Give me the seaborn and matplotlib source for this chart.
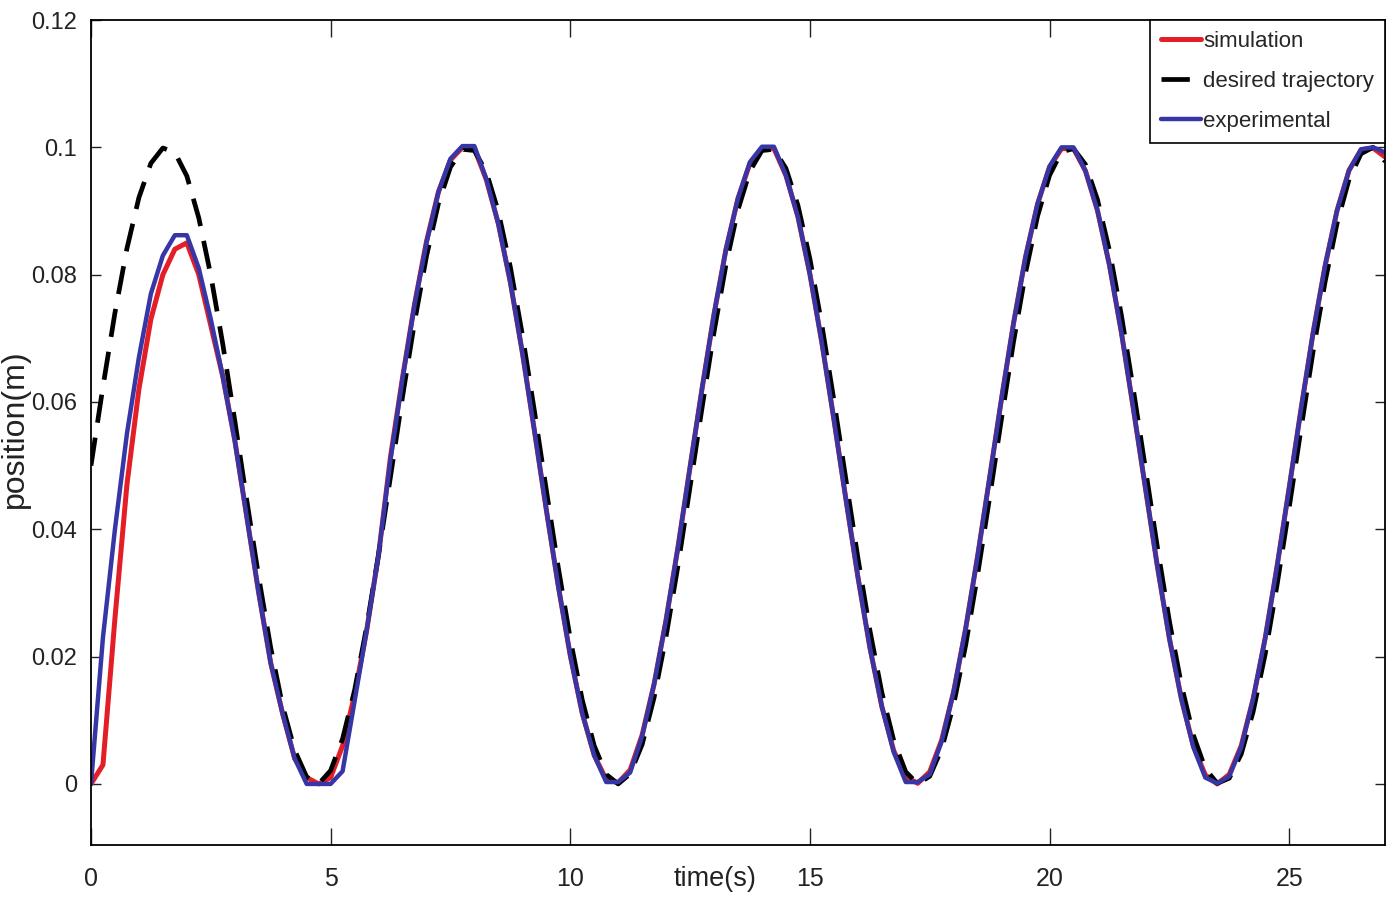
import numpy as np
import pandas as pd
import matplotlib
matplotlib.use("Agg")
import matplotlib.pyplot as plt
import seaborn as sns
from matplotlib.ticker import FuncFormatter

# time grid, 0.25 s steps from 0 to 27 s
time_s = np.arange(0, 27.001, 0.25)

desired = [
    0.0500, 0.0624, 0.0740, 0.0841, 0.0921, 0.0975, 0.0999, 0.0992, 0.0955, 0.0889,
    0.0799, 0.0691, 0.0571, 0.0446, 0.0325, 0.0214, 0.0122, 0.0053, 0.0011, 0.0000,
    0.0021, 0.0071, 0.0147, 0.0246, 0.0360, 0.0483, 0.0608, 0.0725, 0.0829, 0.0912,
    0.0969, 0.0997, 0.0995, 0.0961, 0.0899, 0.0812, 0.0706, 0.0587, 0.0462, 0.0340,
    0.0228, 0.0132, 0.0060, 0.0015, 0.0000, 0.0016, 0.0062, 0.0136, 0.0232, 0.0344,
    0.0467, 0.0591, 0.0710, 0.0816, 0.0902, 0.0963, 0.0995, 0.0997, 0.0967, 0.0909,
    0.0825, 0.0721, 0.0603, 0.0479, 0.0356, 0.0242, 0.0144, 0.0068, 0.0019, 0.0000,
    0.0012, 0.0055, 0.0125, 0.0218, 0.0329, 0.0450, 0.0575, 0.0695, 0.0803, 0.0892,
    0.0956, 0.0993, 0.0998, 0.0973, 0.0918, 0.0838, 0.0736, 0.0619, 0.0496, 0.0372,
    0.0256, 0.0156, 0.0077, 0.0024, 0.0001, 0.0009, 0.0047, 0.0114, 0.0204, 0.0314,
    0.0434, 0.0559, 0.0680, 0.0789, 0.0881, 0.0950, 0.0990, 0.1000, 0.0978,
]

simulation = [
    0.0000, 0.0030, 0.0260, 0.0470, 0.0620, 0.0730, 0.0800, 0.0840, 0.0850, 0.0800,
    0.0720, 0.0640, 0.0540, 0.0420, 0.0300, 0.0190, 0.0110, 0.0040, 0.0010, 0.0000,
    0.0010, 0.0060, 0.0140, 0.0240, 0.0360, 0.0514, 0.0638, 0.0753, 0.0852, 0.0930,
    0.0980, 0.1000, 0.0998, 0.0949, 0.0880, 0.0788, 0.0678, 0.0556, 0.0431, 0.0311,
    0.0202, 0.0111, 0.0045, 0.0007, 0.0002, 0.0022, 0.0077, 0.0157, 0.0258, 0.0373,
    0.0498, 0.0621, 0.0738, 0.0840, 0.0920, 0.0975, 0.0999, 0.0998, 0.0956, 0.0891,
    0.0801, 0.0693, 0.0573, 0.0448, 0.0326, 0.0215, 0.0122, 0.0052, 0.0011, 0.0001,
    0.0019, 0.0069, 0.0145, 0.0244, 0.0358, 0.0481, 0.0606, 0.0724, 0.0828, 0.0911,
    0.0969, 0.0998, 0.0998, 0.0963, 0.0901, 0.0815, 0.0709, 0.0589, 0.0465, 0.0342,
    0.0229, 0.0134, 0.0060, 0.0014, 0.0000, 0.0015, 0.0060, 0.0134, 0.0229, 0.0343,
    0.0465, 0.0590, 0.0709, 0.0814, 0.0901, 0.0964, 0.0996, 0.0999, 0.0985,
]

experimental = [
    0.0000, 0.0230, 0.0400, 0.0550, 0.0670, 0.0770, 0.0830, 0.0862, 0.0862, 0.0810,
    0.0730, 0.0640, 0.0540, 0.0420, 0.0300, 0.0190, 0.0110, 0.0040, 0.0000, 0.0000,
    0.0000, 0.0020, 0.0130, 0.0240, 0.0360, 0.0510, 0.0636, 0.0752, 0.0850, 0.0930,
    0.0982, 0.1002, 0.1002, 0.0950, 0.0880, 0.0788, 0.0678, 0.0556, 0.0431, 0.0311,
    0.0202, 0.0111, 0.0045, 0.0003, 0.0003, 0.0018, 0.0075, 0.0157, 0.0258, 0.0373,
    0.0498, 0.0621, 0.0738, 0.0840, 0.0920, 0.0977, 0.1001, 0.1001, 0.0956, 0.0891,
    0.0801, 0.0693, 0.0573, 0.0448, 0.0326, 0.0215, 0.0122, 0.0050, 0.0003, 0.0003,
    0.0015, 0.0067, 0.0145, 0.0244, 0.0358, 0.0481, 0.0606, 0.0724, 0.0828, 0.0911,
    0.0970, 0.1000, 0.1000, 0.0963, 0.0901, 0.0815, 0.0709, 0.0589, 0.0465, 0.0342,
    0.0229, 0.0134, 0.0058, 0.0010, 0.0001, 0.0012, 0.0058, 0.0134, 0.0229, 0.0343,
    0.0465, 0.0590, 0.0709, 0.0814, 0.0901, 0.0964, 0.0997, 0.1000, 0.0992,
]

x_ticks = [0, 5, 10, 15, 20, 25]
y_ticks = [0, 0.02, 0.04, 0.06, 0.08, 0.1, 0.12]

df = pd.DataFrame({"t": time_s, "simulation": simulation,
                   "desired trajectory": desired, "experimental": experimental})

sns.set_style("white")
plt.rcParams["font.family"] = ["Liberation Sans", "DejaVu Sans"]

fig = plt.figure(figsize=(13.91, 9.11), dpi=100)
ax = fig.add_axes([0.0654, 0.0724, 0.9303, 0.9056])

sns.lineplot(data=df, x="t", y="simulation", ax=ax, color="#e41e26",
             linewidth=3.6, label="simulation")
sns.lineplot(data=df, x="t", y="desired trajectory", ax=ax, color="black",
             linewidth=3.4, label="desired trajectory")
ax.lines[-1].set_dashes((6, 3.2))
sns.lineplot(data=df, x="t", y="experimental", ax=ax, color="#3636a6",
             linewidth=3.2, label="experimental")

ax.set_xlim(0, 27)
ax.set_ylim(-0.0096, 0.12)
ax.set_xticks(x_ticks)
ax.set_yticks(y_ticks)
ax.yaxis.set_major_formatter(FuncFormatter(lambda v, p: f"{v:g}"))

for s in ax.spines.values():
    s.set_color("black")
    s.set_linewidth(1.3)

ax.tick_params(axis="x", direction="in", length=12, width=1, pad=16,
               labelsize=18, top=True, bottom=True, colors="#222222")
ax.tick_params(axis="y", direction="in", length=7, width=1, pad=10,
               labelsize=17, left=True, right=True, colors="#222222")

ax.set_xlabel("time(s)", fontsize=19.5, color="#222222")
ax.xaxis.set_label_coords(0.482, -0.026)
ax.set_ylabel("position(m)", fontsize=23, color="#222222")
ax.yaxis.set_label_coords(-0.047, 0.505)

leg = ax.legend(loc="upper right", borderaxespad=0.0, fontsize=16,
                handlelength=1.8, handletextpad=0.1, labelspacing=0.85,
                borderpad=0.5, fancybox=False, framealpha=1)
leg.get_frame().set_edgecolor("black")
leg.get_frame().set_linewidth(1.2)

fig.savefig("out.png", dpi=100, facecolor="white")
